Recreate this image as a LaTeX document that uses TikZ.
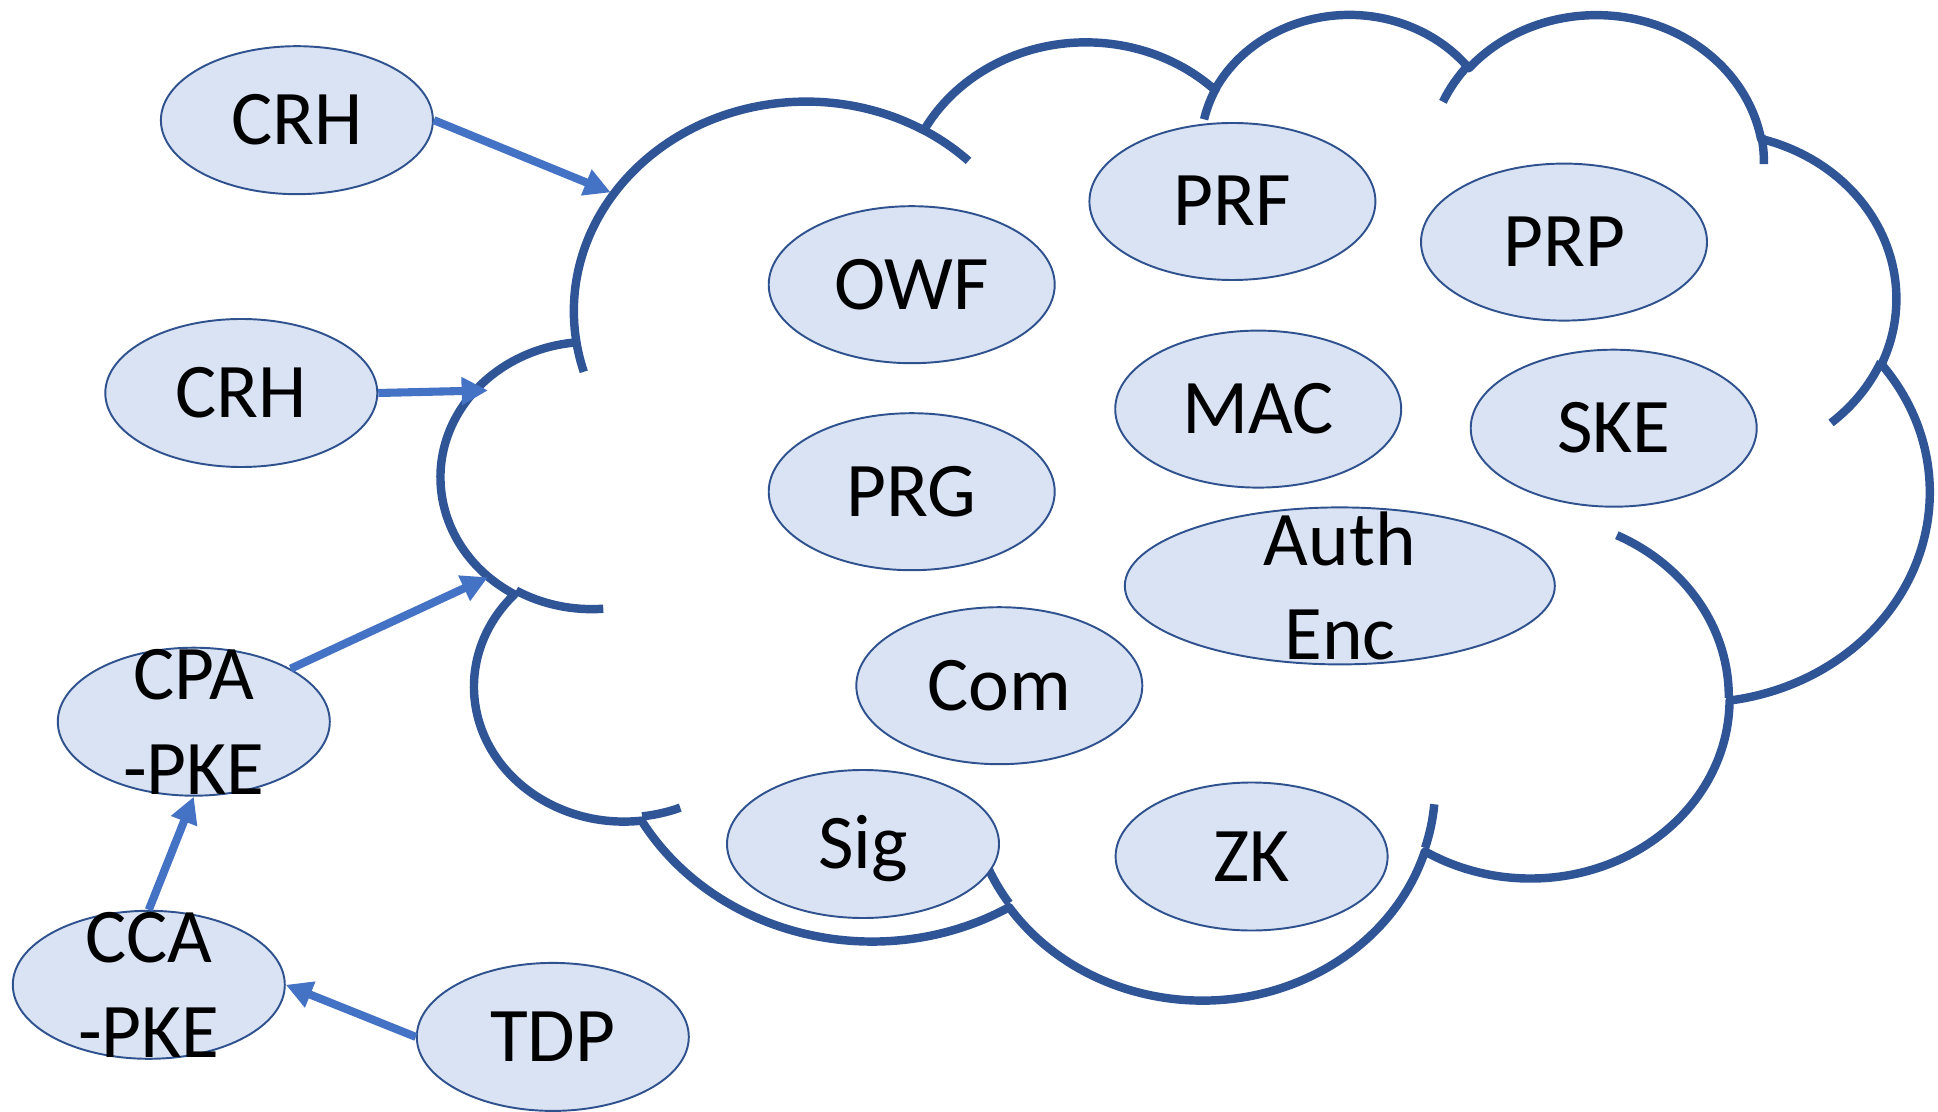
\documentclass[tikz,border=0pt]{standalone}
\usepackage{fontspec}
\setmainfont{Carlito}
\usepackage{tikz}
\usetikzlibrary{arrows.meta,shapes.geometric}

\definecolor{cloudblue}{HTML}{2F5597}
\definecolor{nodeedge}{HTML}{2F528F}
\definecolor{nodefill}{HTML}{DAE3F3}
\definecolor{arrowblue}{HTML}{4472C4}

\tikzset{
  declare function={
    ptang(\x,\p,\q)=atan2(\p*sin(\x),\q*cos(\x));
    pdelta(\x,\w,\p,\q)=mod(ptang(\x+\w,\p,\q)-ptang(\x,\p,\q)+720,360);
  },
  lobe/.style n args={4}{x radius=#1, y radius=#2,
    start angle={ptang(#3,#1,#2)}, delta angle={pdelta(#3,#4,#1,#2)}},
  cloudline/.style={draw=cloudblue, line width=2.4pt, line join=round},
  algo/.style={ellipse, draw=nodeedge, fill=nodefill, line width=0.55pt,
    inner sep=0pt, minimum width=2.86cm, minimum height=1.57cm,
    text height=0.49cm, text depth=0pt},
  smallalgo/.style={algo, minimum width=2.72cm, minimum height=1.48cm},
  twoline/.style={label={[align=center]center:#1}},
  arr/.style={draw=arrowblue, line width=2.3pt, -{Triangle[length=7.5pt,width=7.5pt]}},
}

\begin{document}
\begin{tikzpicture}[font=\fontsize{22}{27}\selectfont]
\useasboundingbox (0,0) rectangle (19.38,11.11);

\begin{scope}[shift={(4.417,10.993)}, xscale=0.34431, yscale=-0.22808]
  \draw[cloudline] (3.900,14.370)
    arc[lobe={6.753}{9.190}{-190.4875}{123.7805}]
    arc[lobe={5.333}{7.267}{-144.1024}{89.9452}]
    arc[lobe={4.365}{5.945}{-145.8079}{99.7230}]
    arc[lobe={4.857}{6.595}{-130.9861}{117.2417}]
    arc[lobe={5.333}{7.273}{-78.7089}{109.0269}]
    arc[lobe={6.775}{9.220}{-46.2673}{130.2690}]
    arc[lobe={5.785}{7.867}{0.6250}{114.0333}]
    arc[lobe={6.752}{9.215}{22.4516}{115.1726}]
    arc[lobe={7.720}{10.543}{66.2426}{75.7110}]
    arc[lobe={4.360}{5.918}{-274.9421}{146.7356}]
    arc[lobe={4.345}{5.945}{-246.8285}{152.5189}] -- cycle;
  \draw[cloudline]
    (4.693,26.177) arc[lobe={4.345}{5.945}{86.7420}{26.4295}]
    (6.928,34.899) arc[lobe={4.360}{5.918}{73.6105}{11.4475}]
    (16.478,39.090) arc[lobe={6.752}{9.215}{137.6242}{14.0811}]
    (28.827,34.751) arc[lobe={6.752}{9.215}{6.4533}{15.9984}]
    (34.129,22.954) arc[lobe={5.785}{7.867}{-70.2924}{70.9174}]
    (41.798,15.354) arc[lobe={5.333}{7.273}{30.3180}{27.7515}]
    (38.324,5.426) arc[lobe={4.857}{6.595}{-13.7443}{14.8501}]
    (29.078,3.952) arc[lobe={4.857}{6.595}{-149.1815}{18.1959}]
    (22.141,4.720) arc[lobe={4.365}{5.945}{-163.4943}{17.6938}]
    (14.000,5.192) arc[lobe={6.753}{9.190}{-66.7070}{12.3194}]
    (4.127,15.789) arc[lobe={6.753}{9.190}{157.6544}{11.8582}];
\end{scope}

\node[algo] (owf) at (9.117,8.263) {OWF};
\node[algo] (prg) at (9.117,6.193) {PRG};
\node[algo] (prf) at (12.324,9.095) {PRF};
\node[algo] (prp) at (15.640,8.689) {PRP};
\node[algo] (mac) at (12.582,7.019) {MAC};
\node[algo] (ske) at (16.137,6.828) {SKE};
\node[algo, minimum width=4.30cm, twoline={Auth\\Enc}] (authenc) at (13.398,5.251) {};
\node[algo] (com) at (9.993,4.253) {Com};
\node[smallalgo] (sig) at (8.630,2.670) {Sig};
\node[smallalgo] (zk) at (12.516,2.545) {ZK};

\node[smallalgo] (crh1) at (2.969,9.908) {CRH};
\node[smallalgo] (crh2) at (2.413,7.180) {CRH};
\node[smallalgo, twoline={CPA\\-PKE}] (cpa) at (1.938,3.893) {};
\node[smallalgo, twoline={CCA\\-PKE}] (cca) at (1.488,1.262) {};
\node[smallalgo] (tdp) at (5.528,0.741) {TDP};

\coordinate (crh1tip) at (6.107,9.186);
\coordinate (crh2tip) at (4.880,7.206);
\coordinate (cpatip) at (4.880,5.338);

\draw[arr] (crh1.east) -- (crh1tip);
\draw[arr] (crh2.east) -- (crh2tip);
\draw[arr] (cpa.north east) -- (cpatip);
\draw[arr] (cca.north) -- (cpa.south);
\draw[arr] (tdp.west) -- (cca.east);
\end{tikzpicture}
\end{document}
